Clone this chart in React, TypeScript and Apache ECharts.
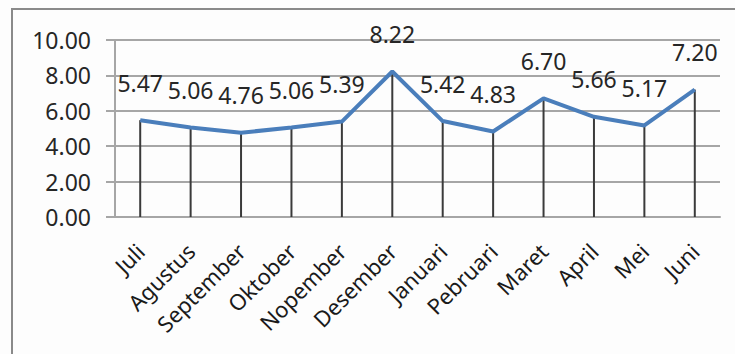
import React, { useEffect, useRef } from "react";
import * as echarts from "echarts";

const categories = ["Juli", "Agustus", "September", "Oktober", "Nopember", "Desember", "Januari", "Pebruari", "Maret", "April", "Mei", "Juni"];
const values = [5.47, 5.06, 4.76, 5.06, 5.39, 8.22, 5.42, 4.83, 6.7, 5.66, 5.17, 7.2];
const yMin = 0;
const yMax = 10;
const yInterval = 2;

export default function App() {
  const ref = useRef<HTMLDivElement>(null);
  useEffect(() => {
    document.body.style.margin = "0";
    const chart = echarts.init(ref.current!, null, { renderer: "svg" });
    const font = "'Noto Sans', sans-serif";
    chart.setOption({
      animation: false,
      backgroundColor: "#fdfdfd",
      graphic: [
        {
          type: "rect",
          shape: { x: 12, y: 9, width: 760, height: 400 },
          style: { fill: "none", stroke: "#8a8a8a", lineWidth: 2 },
          silent: true,
        },
      ],
      grid: { left: 115, right: 15, top: 40, bottom: 137, containLabel: false },
      xAxis: {
        type: "category",
        data: categories,
        boundaryGap: true,
        axisLine: { show: true, lineStyle: { color: "#a6a6a6", width: 2 } },
        axisTick: { show: false },
        axisLabel: {
          rotate: 45,
          interval: 0,
          margin: 30,
          color: "#1a1a1a",
          fontFamily: font,
          fontSize: 22,
        },
      },
      yAxis: {
        type: "value",
        min: yMin,
        max: yMax,
        interval: yInterval,
        axisLine: { show: true, lineStyle: { color: "#a6a6a6", width: 2 } },
        axisTick: { show: true, inside: false, length: 9, lineStyle: { color: "#a6a6a6", width: 2 } },
        splitLine: { show: true, lineStyle: { color: "#a6a6a6", width: 2 } },
        axisLabel: {
          margin: 24,
          color: "#262626",
          fontFamily: font,
          fontSize: 23,
          formatter: (v: number) => v.toFixed(2),
        },
      },
      series: [
        {
          type: "bar",
          data: values,
          barWidth: 2,
          itemStyle: { color: "#3a3a3a" },
          silent: true,
          z: 2,
          label: {
            show: true,
            position: "top",
            distance: 26,
            color: "#262626",
            fontFamily: font,
            fontSize: 23,
            formatter: (p: any) => Number(p.value).toFixed(2),
          },
        },
        {
          type: "line",
          data: values,
          symbol: "none",
          lineStyle: { color: "#4a7ebb", width: 4 },
          z: 3,
        },
      ],
    });
    return () => chart.dispose();
  }, []);
  return (
    <div
      ref={ref}
      style={{ position: "fixed", left: 0, top: 0, width: 735, height: 354 }}
    />
  );
}
